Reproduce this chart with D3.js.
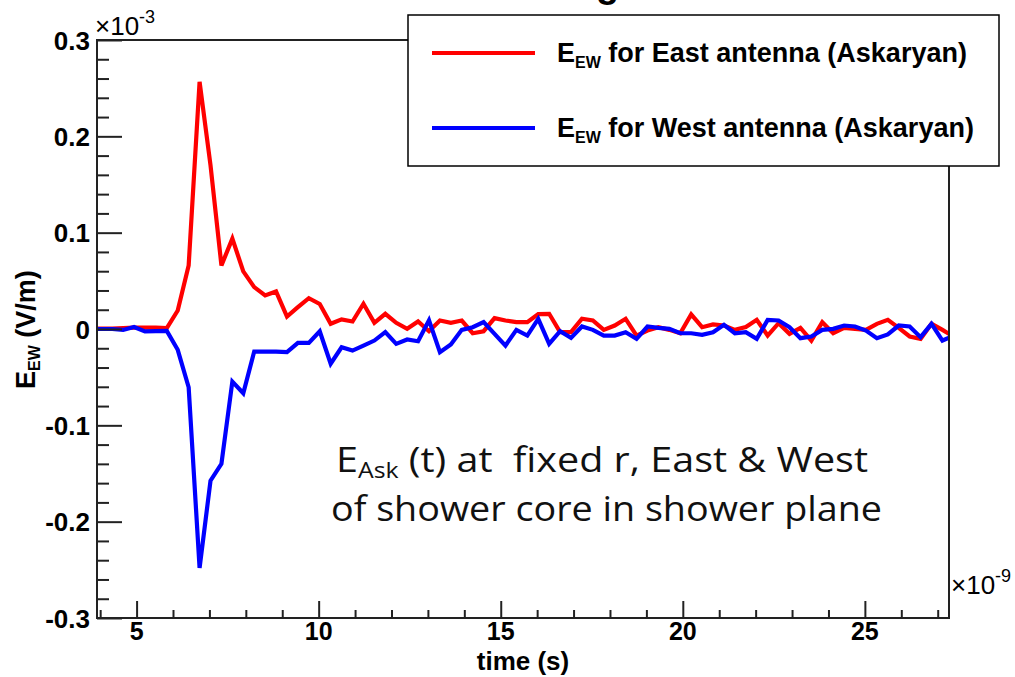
<!DOCTYPE html>
<html lang="en">
<head>
    <meta charset="UTF-8">
    <title>E_EW Askaryan East / West</title>
    <script src="https://d3js.org/d3.v7.min.js"></script>
    <style>
        body {
            margin: 0;
            background-color: #ffffff;
        }
        svg {
            display: block;
        }
        .lbl {
            font-family: "Liberation Sans", Arial, sans-serif;
            font-weight: bold;
            fill: #000;
        }
        .expo {
            font-family: "Liberation Sans", Arial, sans-serif;
            font-weight: normal;
            fill: #000;
        }
        .note {
            font-family: "Open Sans", "Noto Sans", sans-serif;
            fill: #111;
            white-space: pre;
        }
    </style>
</head>
<body>
    <div id="chart"></div>

    <script>
        // sample times (x 1e-9 s)
        const times = [
            3.73, 4.03, 4.33, 4.63, 4.93, 5.23, 5.53, 5.83, 6.13, 6.43,
            6.73, 7.03, 7.33, 7.63, 7.93, 8.23, 8.53, 8.83, 9.13, 9.43,
            9.73, 10.03, 10.33, 10.63, 10.93, 11.23, 11.53, 11.83, 12.13, 12.43,
            12.73, 13.03, 13.33, 13.63, 13.93, 14.23, 14.53, 14.83, 15.13, 15.43,
            15.73, 16.03, 16.33, 16.63, 16.93, 17.23, 17.53, 17.83, 18.13, 18.43,
            18.73, 19.03, 19.33, 19.63, 19.93, 20.23, 20.53, 20.83, 21.13, 21.43,
            21.73, 22.03, 22.33, 22.63, 22.93, 23.23, 23.53, 23.83, 24.13, 24.43,
            24.73, 25.03, 25.33, 25.63, 25.93, 26.23, 26.53, 26.83, 27.13, 27.43
        ];

        // E_EW for East antenna (x 1e-3 V/m)
        const eastField = [
            0.0005, 0.0005, 0.0005, 0.001, 0.0015, 0.0015, 0.0015, 0.001, 0.0192, 0.066,
            0.2566, 0.170, 0.066, 0.0938, 0.0598, 0.0435, 0.0348, 0.039, 0.013, 0.0227,
            0.032, 0.026, 0.0054, 0.010, 0.0078, 0.0262, 0.0064, 0.0158, 0.0064, 0.0002,
            0.0078, -0.0023, 0.0088, 0.0064, 0.0088, -0.0044, -0.0023, 0.0113, 0.0088, 0.0071,
            0.0071, 0.0155, 0.0158, -0.0033, -0.0033, 0.0106, 0.0088, -0.0009, 0.0036, 0.0106,
            -0.0068, -0.0016, 0.0019, -0.0009, -0.0044, 0.0151, 0.0019, 0.0047, 0.0036, -0.0009,
            0.002, 0.0095, -0.0068, 0.006, -0.005, 0.0012, -0.012, 0.0071, -0.0044, 0.0012,
            0.0002, -0.0009, 0.0054, 0.0095, 0.0012, -0.0078, -0.0102, 0.0054, -0.0009, -0.0078
        ];

        // E_EW for West antenna (x 1e-3 V/m)
        const westField = [
            0, 0, 0, -0.001, 0.002, -0.0025, -0.0023, -0.002, -0.0216, -0.0605,
            -0.248, -0.1575, -0.140, -0.0546, -0.0667, -0.0234, -0.0234, -0.0234, -0.0241, -0.0144,
            -0.0144, -0.0023, -0.036, -0.019, -0.0224, -0.0172, -0.012, -0.0033, -0.0154, -0.0109,
            -0.0127, 0.009, -0.0241, -0.0161, -0.0009, 0.0019, 0.0071, -0.005, -0.0172, -0.0009,
            -0.0068, 0.0106, -0.0154, -0.0023, -0.0092, 0.0026, -0.0009, -0.0068, -0.0068, -0.0033,
            -0.0102, 0.0026, 0.0012, 0.0002, -0.0044, -0.0044, -0.006, -0.0033, 0.0044, -0.0044,
            -0.0033, -0.0102, 0.0095, 0.0088, 0.0019, -0.0095, -0.0078, -0.0009, 0.0002, 0.0036,
            0.0026, -0.0016, -0.0095, -0.0057, 0.0036, 0.0026, -0.0085, 0.0054, -0.012, -0.0073
        ];

        const xMajorTicks = [5, 10, 15, 20, 25];
        const yMajorTicks = [-0.3, -0.2, -0.1, 0, 0.1, 0.2, 0.3];
        const legendLabels = ["for East antenna (Askaryan)", "for West antenna (Askaryan)"];
        const noteLines = ["(t) at  fixed r, East & West", "of shower core in shower plane"];

        const width = 1015, height = 677;
        const plotLeft = 97, plotRight = 949, plotTop = 40, plotBottom = 618;

        const svg = d3.select("#chart").append("svg")
            .attr("width", width)
            .attr("height", height);

        const x = d3.scaleLinear().domain([3.913, 27.31]).range([plotLeft, plotRight]);
        const y = d3.scaleLinear().domain([-0.3, 0.3]).range([plotBottom, plotTop]);

        // clipped plot area
        svg.append("clipPath").attr("id", "plotclip")
            .append("rect")
            .attr("x", plotLeft).attr("y", plotTop)
            .attr("width", plotRight - plotLeft).attr("height", plotBottom - plotTop);

        const line = d3.line()
            .x((d, i) => x(times[i]))
            .y(d => y(d));

        const plot = svg.append("g").attr("clip-path", "url(#plotclip)");
        plot.append("path")
            .datum(eastField)
            .attr("d", line)
            .attr("fill", "none")
            .attr("stroke", "#ff0000")
            .attr("stroke-width", 4.2)
            .attr("stroke-linejoin", "miter");
        plot.append("path")
            .datum(westField)
            .attr("d", line)
            .attr("fill", "none")
            .attr("stroke", "#0000ff")
            .attr("stroke-width", 4.2)
            .attr("stroke-linejoin", "miter");

        // frame
        svg.append("rect")
            .attr("x", plotLeft).attr("y", plotTop)
            .attr("width", plotRight - plotLeft).attr("height", plotBottom - plotTop)
            .attr("fill", "none")
            .attr("stroke", "#222")
            .attr("stroke-width", 2);

        // y ticks (inward, on the left)
        const yMinor = d3.range(-0.3, 0.3001, 0.02).filter(v => Math.abs(Math.round(v * 10) - v * 10) > 1e-6);
        const yMinorAxis = d3.axisRight(y).tickValues(yMinor).tickSize(12).tickFormat("");
        const yMajorAxis = d3.axisRight(y).tickValues(yMajorTicks).tickSize(25).tickFormat("");
        [yMinorAxis, yMajorAxis].forEach(ax => {
            const g = svg.append("g").attr("transform", `translate(${plotLeft},0)`).call(ax);
            g.select(".domain").remove();
            g.selectAll("line").attr("stroke", "#222").attr("stroke-width", 2);
        });

        // x ticks (inward, on the bottom)
        const xMinor = d3.range(4, 28, 1).filter(v => v % 5 !== 0);
        const xMinorAxis = d3.axisTop(x).tickValues(xMinor).tickSize(8).tickFormat("");
        const xMajorAxis = d3.axisTop(x).tickValues(xMajorTicks).tickSize(17).tickFormat("");
        [xMinorAxis, xMajorAxis].forEach(ax => {
            const g = svg.append("g").attr("transform", `translate(0,${plotBottom})`).call(ax);
            g.select(".domain").remove();
            g.selectAll("line").attr("stroke", "#222").attr("stroke-width", 2);
        });

        // tick labels
        svg.append("g").selectAll("text")
            .data(yMajorTicks)
            .enter().append("text")
            .attr("class", "lbl")
            .attr("x", 90)
            .attr("y", d => y(d) + 9.5)
            .attr("text-anchor", "end")
            .attr("font-size", 26)
            .text(d => d === 0 ? "0" : d3.format(".1f")(d).replace("\u2212", "-"));

        svg.append("g").selectAll("text")
            .data(xMajorTicks)
            .enter().append("text")
            .attr("class", "lbl")
            .attr("x", d => x(d))
            .attr("y", 640)
            .attr("text-anchor", "middle")
            .attr("font-size", 25)
            .text(d => d);

        // exponents
        const ey = svg.append("text").attr("class", "expo")
            .attr("x", 95).attr("y", 35).attr("font-size", 26);
        ey.append("tspan").text("\u00d710");
        ey.append("tspan").attr("font-size", 18).attr("dy", -12).text("-3");

        const ex = svg.append("text").attr("class", "expo")
            .attr("x", 951).attr("y", 594).attr("font-size", 26);
        ex.append("tspan").text("\u00d710");
        ex.append("tspan").attr("font-size", 18).attr("dy", -12).text("-9");

        // axis titles
        svg.append("text")
            .attr("class", "lbl")
            .attr("x", (plotLeft + plotRight) / 2)
            .attr("y", 670)
            .attr("text-anchor", "middle")
            .attr("font-size", 26)
            .text("time (s)");

        const yt = svg.append("text")
            .attr("class", "lbl")
            .attr("transform", "translate(35,389) rotate(-90)")
            .attr("font-size", 27);
        yt.append("tspan").text("E");
        yt.append("tspan").attr("font-size", 16).attr("dy", 5).text("EW");
        yt.append("tspan").attr("dy", -5).text(" (V/m)");

        // partial title peeking above the legend
        svg.append("text")
            .attr("class", "lbl")
            .attr("x", 596)
            .attr("y", -3)
            .attr("font-size", 38)
            .text("g");

        // legend
        const legend = svg.append("g");
        legend.append("rect")
            .attr("x", 408).attr("y", 15)
            .attr("width", 591).attr("height", 151)
            .attr("fill", "#fff")
            .attr("stroke", "#000")
            .attr("stroke-width", 1.5);
        const legendColors = ["#ff0000", "#0000ff"];
        const legendY = [53, 128];
        legendLabels.forEach((lab, i) => {
            legend.append("line")
                .attr("x1", 432).attr("x2", 535)
                .attr("y1", legendY[i]).attr("y2", legendY[i])
                .attr("stroke", legendColors[i])
                .attr("stroke-width", 4);
            const t = legend.append("text")
                .attr("class", "lbl")
                .attr("x", 557)
                .attr("y", legendY[i] + 9)
                .attr("font-size", 27);
            t.append("tspan").text("E");
            t.append("tspan").attr("font-size", 16).attr("dy", 6).text("EW");
            t.append("tspan").attr("dy", -6).text(" " + lab);
        });

        // annotation
        const n1 = svg.append("text").attr("class", "note")
            .attr("x", 336).attr("y", 472).attr("font-size", 35)
            .attr("textLength", 532).attr("lengthAdjust", "spacingAndGlyphs");
        n1.append("tspan").text("E");
        n1.append("tspan").attr("font-size", 22).attr("dy", 6).text("Ask");
        n1.append("tspan").attr("dy", -6).text(" " + noteLines[0]);

        svg.append("text").attr("class", "note")
            .attr("x", 331).attr("y", 521).attr("font-size", 35)
            .attr("textLength", 551).attr("lengthAdjust", "spacingAndGlyphs")
            .text(noteLines[1]);
    </script>
</body>
</html>
